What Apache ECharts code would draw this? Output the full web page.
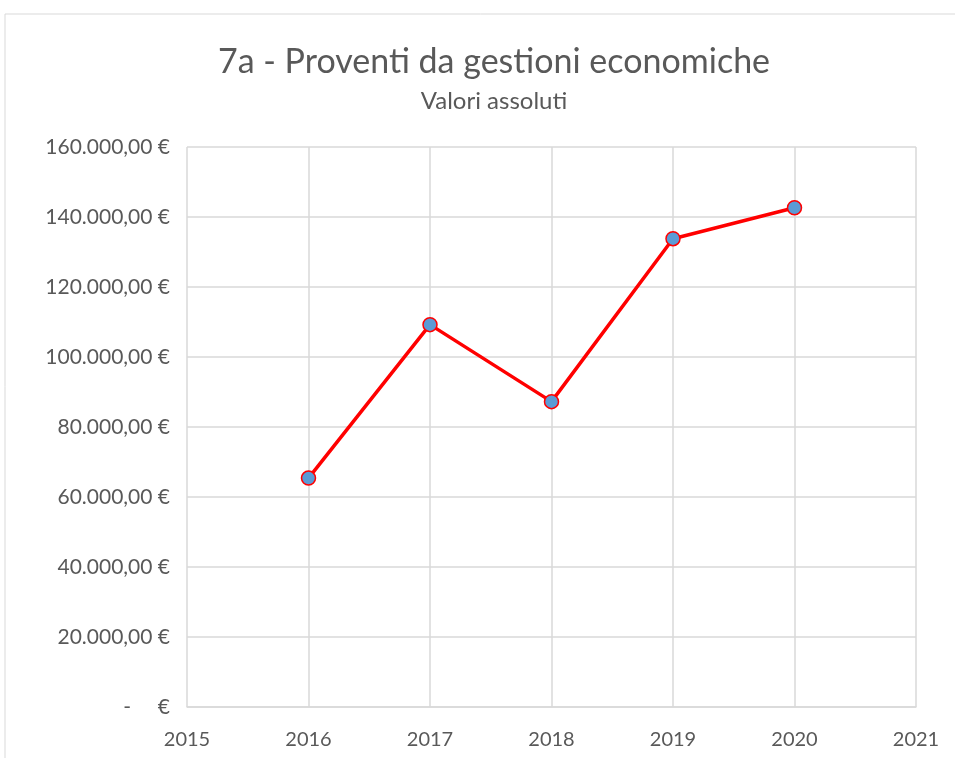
<!DOCTYPE html>
<html>
<head>
<meta charset="utf-8">
<script src="https://cdn.jsdelivr.net/npm/echarts@6/dist/echarts.min.js"></script>
<style>
  html, body { margin: 0; padding: 0; background: #fff; }
  #chart { width: 955px; height: 758px; }
</style>
</head>
<body>
<div id="chart"></div>
<script>
// data
const years = [2016, 2017, 2018, 2019, 2020]
const proventi = [65400, 109250, 87250, 133800, 142650]
const titleText = '7a - Proventi da gestioni economiche'
const subtitleText = 'Valori assoluti'

let textColor = '#595959'
let gridColor = '#D9D9D9'
let fontFamily = 'Lato, "Open Sans", sans-serif'

function euro(v) {
  if (v === 0) return '-     €'
  let s = String(Math.round(v)).replace(/\B(?=(\d{3})+(?!\d))/g, '.')
  return s + ',00 €'
}

const chart = echarts.init(document.getElementById('chart'))
chart.setOption({
  animation: false,
  textStyle: {fontFamily: fontFamily},
  graphic: [{
    type: 'rect',
    shape: {x: 5, y: 14, width: 960, height: 760},
    style: {fill: 'none', stroke: gridColor, lineWidth: 1}
  }],
  title: {
    text: titleText,
    subtext: subtitleText,
    left: 489,
    textAlign: 'center',
    top: 40,
    itemGap: 10,
    textStyle: {color: textColor, fontSize: 34, fontWeight: 'normal', fontFamily: fontFamily},
    subtextStyle: {color: textColor, fontSize: 24, fontFamily: fontFamily}
  },
  grid: {left: 187, right: 39, top: 147, bottom: 51},
  xAxis: {
    type: 'value',
    min: 2015,
    max: 2021,
    interval: 1,
    axisLine: {show: true, lineStyle: {color: gridColor, width: 1.5}},
    axisTick: {show: false},
    axisLabel: {color: textColor, fontSize: 20, margin: 23, formatter: v => String(v)},
    splitLine: {show: true, lineStyle: {color: gridColor, width: 1.5}}
  },
  yAxis: {
    type: 'value',
    min: 0,
    max: 160000,
    interval: 20000,
    axisLine: {show: false},
    axisTick: {show: false},
    axisLabel: {color: textColor, fontSize: 21, margin: 17, formatter: euro},
    splitLine: {lineStyle: {color: gridColor, width: 1.5}}
  },
  series: [{
    type: 'line',
    data: years.map((y, i) => [y, proventi[i]]),
    symbol: 'circle',
    symbolSize: 14,
    lineStyle: {color: '#FF0000', width: 3.5},
    itemStyle: {color: '#5B9BD5', borderColor: '#FF0000', borderWidth: 1.5}
  }]
})
</script>
</body>
</html>
